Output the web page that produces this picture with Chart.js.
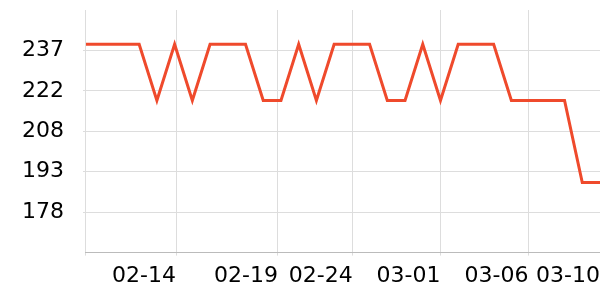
<!DOCTYPE html>
<html>
<head>
<meta charset="utf-8">
<script src="https://cdn.jsdelivr.net/npm/chart.js@4"></script>
<style>
  html, body { margin: 0; padding: 0; background: #fff; }
</style>
</head>
<body>
<canvas id="myChart" width="600" height="300"></canvas>
<script>
const ctx = document.getElementById('myChart')

// one value per day
const values = [
    239.5, 239.5, 239.5, 239.5, 219, 239.5, 219, 239.5, 239.5, 239.5,
    219, 219, 239.5, 219, 239.5, 239.5, 239.5, 219, 219, 239.5,
    219, 239.5, 239.5, 239.5, 219, 219, 219, 219, 189, 189
]

const xTickLabels = ['', '02-14', '02-19', '02-24', '03-01', '03-06', '03-10']
const xTickValues = [0, 5.08, 10.83, 15.05, 20, 24.96, 29]

const yTickLabels = ['178', '193', '208', '222', '237']
const yTickValues = [178.21, 192.97, 207.72, 222.48, 237.24]

const points = values.map((v, i) => ({ x: i, y: v }))

const font = { family: 'DejaVu Sans', size: 22 }

const config = {
    type: 'line',
    data: {
        datasets: [{
            data: points,
            borderColor: '#ef4a2c',
            borderWidth: 3,
            pointRadius: 0,
            tension: 0,
            fill: false
        }]
    },
    options: {
        responsive: false,
        animation: false,
        layout: { padding: { left: 3, top: 10, right: 0, bottom: 4 } },
        plugins: { legend: { display: false }, tooltip: { enabled: false } },
        scales: {
            x: {
                type: 'linear',
                min: 0,
                max: 29,
                afterBuildTicks: s => { s.ticks = xTickValues.map(v => ({ value: v })) },
                afterFit: s => { s.paddingLeft = 0; s.paddingRight = 0 },
                ticks: {
                    autoSkip: false,
                    maxRotation: 0,
                    align: 'end',
                    padding: 7,
                    color: '#000',
                    font: font,
                    callback: (v, i) => xTickLabels[i]
                },
                grid: { color: '#dddddd', tickLength: 3 },
                border: { color: '#bbbbbb' }
            },
            y: {
                min: 163.45,
                max: 252,
                afterBuildTicks: s => { s.ticks = yTickValues.map(v => ({ value: v })) },
                afterFit: s => { s.paddingTop = 0; s.paddingBottom = 0 },
                ticks: {
                    padding: 19,
                    color: '#000',
                    font: font,
                    callback: (v, i) => yTickLabels[i]
                },
                grid: { color: '#dddddd', tickLength: 3 },
                border: { display: false }
            }
        }
    }
}

const myChart = new Chart(ctx, config)
</script>
</body>
</html>
